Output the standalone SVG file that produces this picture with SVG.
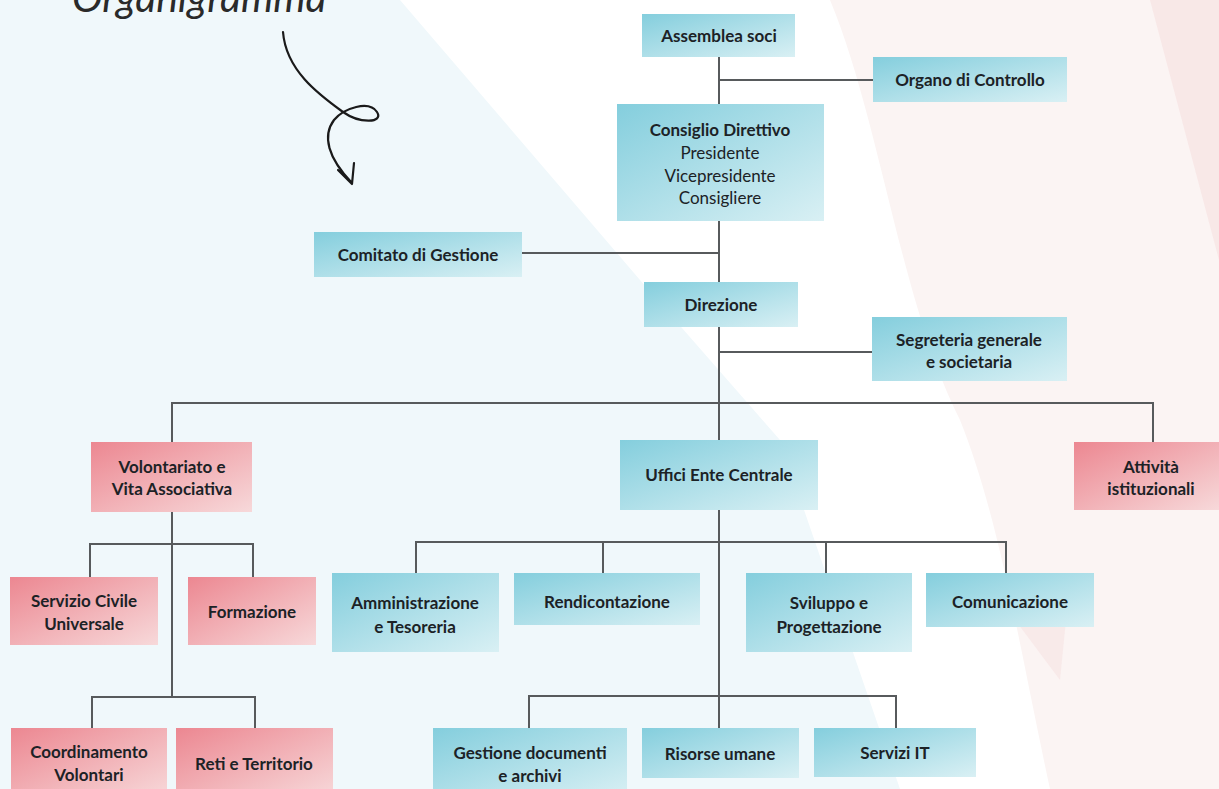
<svg xmlns="http://www.w3.org/2000/svg" width="1219" height="789" viewBox="0 0 1219 789">
<defs>
<linearGradient id="gb" x1="0" y1="0" x2="1" y2="1">
<stop offset="0" stop-color="#84cedd"/>
<stop offset="1" stop-color="#d9f0f4"/>
</linearGradient>
<linearGradient id="gr" x1="0" y1="0" x2="1" y2="1">
<stop offset="0" stop-color="#ec8791"/>
<stop offset="1" stop-color="#f7d9da"/>
</linearGradient>
<style>
.b{fill:url(#gb)}
.r{fill:url(#gr)}
.t{font-family:Lato,"Open Sans",sans-serif;font-size:17px;font-weight:bold;fill:#1c2226;text-anchor:middle}
.n{font-weight:normal;font-size:17px}
.c{fill:none;stroke:#575a5c;stroke-width:2}
</style>
</defs>
<rect width="1219" height="789" fill="#fbf4f3"/>
<path d="M830,0 C880,120 900,300 960,420 C1000,520 1020,650 1050,789 L0,789 L0,0 Z" fill="#ffffff"/>
<path d="M0,0 L400,0 L640,280 L780,440 L900,789 L0,789 Z" fill="#f0f8fb"/>
<path d="M1150,0 L1219,0 L1219,260 Z" fill="#f6dfdf" opacity="0.6"/>
<path d="M1000,600 L1070,580 L1060,680 Z" fill="#f7e3e3" opacity="0.6"/>
<g id="title">
<text x="72" y="12" font-family="Lato,'Open Sans',sans-serif" font-style="italic" font-size="41" fill="#2a2a2a">Organigramma</text>
<path d="M283,32 C286,70 318,94 343,112 C360,124 384,123 377,112 C369,100 344,108 334,120 C322,136 328,158 352,183 M338,170 L352,184 L354,163" fill="none" stroke="#1a1a1a" stroke-width="2.2" stroke-linecap="round" stroke-linejoin="round"/>
</g>
<g id="connectors">
<path class="c" d="M719,57 V728"/>
<path class="c" d="M719,80 H873"/>
<path class="c" d="M522,253 H719"/>
<path class="c" d="M719,352 H872"/>
<path class="c" d="M172,442 V403 H1153 V442"/>
<path class="c" d="M172,512 V697"/>
<path class="c" d="M90,577 V544 H253 V577"/>
<path class="c" d="M92,728 V697 H255 V728"/>
<path class="c" d="M416,573 V542 H1006 V573 M603,542 V573 M826,542 V573"/>
<path class="c" d="M529,728 V696 H896 V728"/>
</g>
<g id="assemblea"><rect class="b" x="642" y="14" width="153" height="43"/><text class="t" x="719" y="42">Assemblea soci</text></g>
<g id="organo"><rect class="b" x="873" y="57" width="194" height="45"/><text class="t" x="970" y="86">Organo di Controllo</text></g>
<g id="consiglio"><rect class="b" x="617" y="104" width="207" height="117"/>
<text class="t" x="720" y="136">Consiglio Direttivo</text>
<text class="t n" x="720" y="159">Presidente</text>
<text class="t n" x="720" y="182">Vicepresidente</text>
<text class="t n" x="720" y="204">Consigliere</text></g>
<g id="comitato"><rect class="b" x="314" y="232" width="208" height="45"/><text class="t" x="418" y="261" font-size="19.5">Comitato di Gestione</text></g>
<g id="direzione"><rect class="b" x="644" y="282" width="154" height="45"/><text class="t" x="721" y="311">Direzione</text></g>
<g id="segreteria"><rect class="b" x="872" y="317" width="195" height="64"/><text class="t" x="969" y="346">Segreteria generale</text><text class="t" x="969" y="368">e societaria</text></g>
<g id="volontariato"><rect class="r" x="91" y="442" width="161" height="70"/><text class="t" x="172" y="473">Volontariato e</text><text class="t" x="172" y="495">Vita Associativa</text></g>
<g id="uffici"><rect class="b" x="620" y="440" width="198" height="70"/><text class="t" x="719" y="481">Uffici Ente Centrale</text></g>
<g id="attivita"><rect class="r" x="1074" y="442" width="145" height="68"/><text class="t" x="1151" y="473">Attività</text><text class="t" x="1151" y="495">istituzionali</text></g>
<g id="servizio"><rect class="r" x="10" y="577" width="148" height="68"/><text class="t" x="84" y="607">Servizio Civile</text><text class="t" x="84" y="630">Universale</text></g>
<g id="formazione"><rect class="r" x="188" y="577" width="128" height="68"/><text class="t" x="252" y="618">Formazione</text></g>
<g id="amministrazione"><rect class="b" x="332" y="573" width="167" height="79"/><text class="t" x="415" y="609">Amministrazione</text><text class="t" x="415" y="633">e Tesoreria</text></g>
<g id="rendicontazione"><rect class="b" x="514" y="573" width="186" height="52"/><text class="t" x="607" y="608">Rendicontazione</text></g>
<g id="sviluppo"><rect class="b" x="746" y="573" width="166" height="79"/><text class="t" x="829" y="609">Sviluppo e</text><text class="t" x="829" y="633">Progettazione</text></g>
<g id="comunicazione"><rect class="b" x="926" y="573" width="168" height="54"/><text class="t" x="1010" y="608">Comunicazione</text></g>
<g id="coordinamento"><rect class="r" x="11" y="728" width="156" height="70"/><text class="t" x="89" y="758">Coordinamento</text><text class="t" x="89" y="781">Volontari</text></g>
<g id="reti"><rect class="r" x="176" y="728" width="157" height="70"/><text class="t" x="254" y="770">Reti e Territorio</text></g>
<g id="gestione"><rect class="b" x="433" y="728" width="194" height="70"/><text class="t" x="530" y="759">Gestione documenti</text><text class="t" x="530" y="782">e archivi</text></g>
<g id="risorse"><rect class="b" x="642" y="728" width="157" height="50"/><text class="t" x="720" y="760">Risorse umane</text></g>
<g id="servizi"><rect class="b" x="814" y="728" width="162" height="49"/><text class="t" x="895" y="759">Servizi IT</text></g>
</svg>
